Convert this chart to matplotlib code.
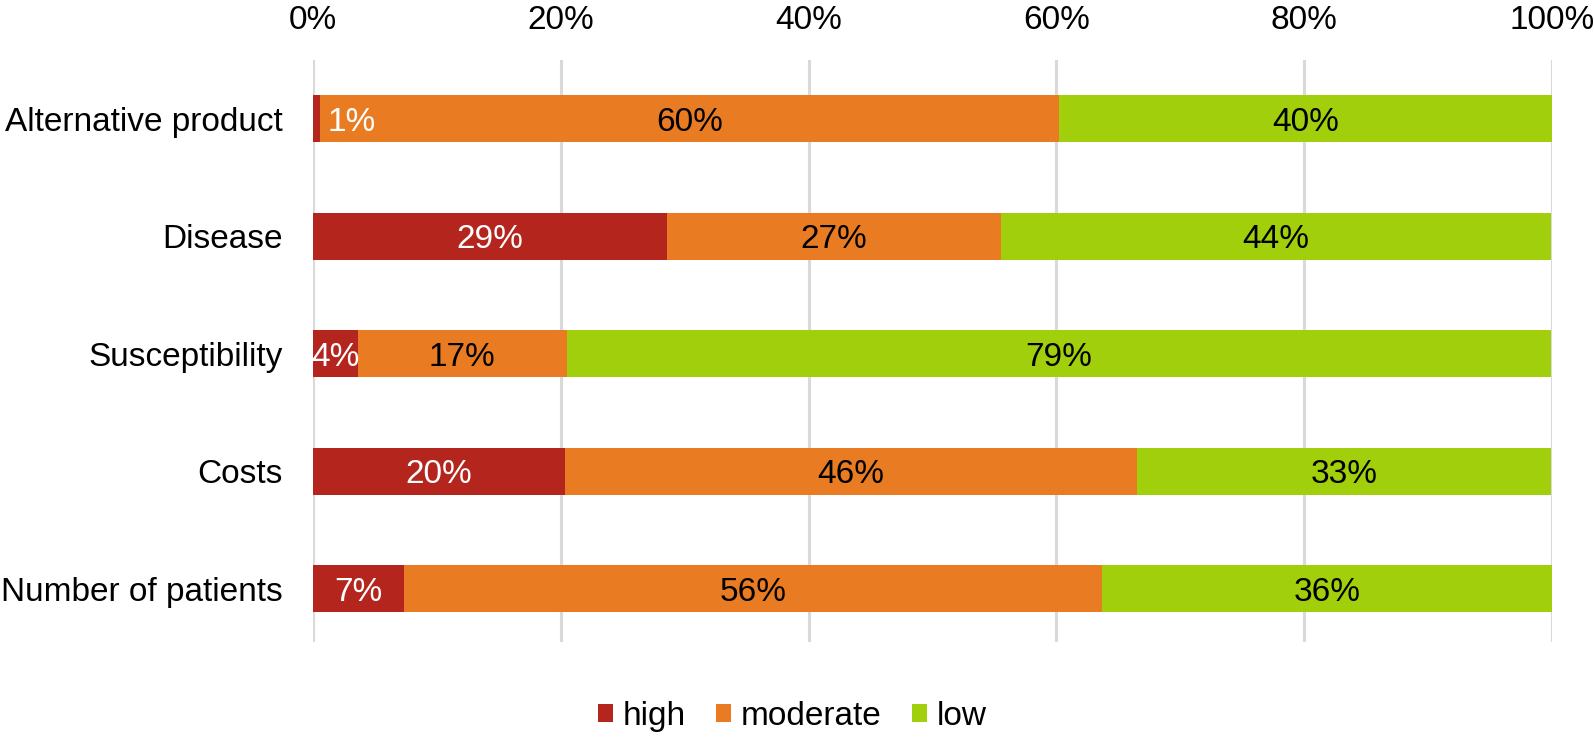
import matplotlib
matplotlib.use('Agg')
import matplotlib.pyplot as plt
from matplotlib.ticker import PercentFormatter

plt.rcParams['font.family'] = ['Liberation Sans', 'DejaVu Sans']

categories = ['Alternative product', 'Disease', 'Susceptibility', 'Costs',
              'Number of patients']
high = [0.6, 28.6, 3.6, 20.3, 7.3]
moderate = [59.6, 26.9, 16.9, 46.2, 56.4]
low = [39.8, 44.4, 79.4, 33.4, 36.3]

series = [('high', high, '#B4251E', 'white'),
          ('moderate', moderate, '#E97B23', 'black'),
          ('low', low, '#A2CF0B', 'black')]

FS = 24

fig = plt.figure(figsize=(15.94, 7.37), dpi=100)
ax = fig.add_axes([0.1964, 0.1289, 0.7773, 0.7897])

ypos = list(range(len(categories)))
left = [0.0] * len(categories)
for name, vals, color, tcolor in series:
    ax.barh(ypos, vals, left=left, height=0.4, color=color, label=name,
            zorder=2)
    for y, l, v in zip(ypos, left, vals):
        if v < 2:
            # tiny segment: Excel pushes the label inside the plot area
            ax.text(l + v + 0.6, y, f'{v:.0f}%', ha='left',
                    va='center_baseline', color=tcolor, fontsize=FS, zorder=3)
        else:
            ax.text(l + v / 2, y, f'{v:.0f}%', ha='center',
                    va='center_baseline', color=tcolor, fontsize=FS,
                    zorder=3, clip_on=True)
    left = [a + b for a, b in zip(left, vals)]

ax.set_xlim(0, 100)
ax.set_ylim(4.455, -0.498)
ax.set_yticks(ypos)
ax.set_yticklabels(categories, fontsize=FS)
ax.set_xticks([0, 20, 40, 60, 80, 100])
ax.xaxis.set_major_formatter(PercentFormatter(decimals=0))
ax.xaxis.tick_top()
ax.tick_params(axis='x', labelsize=FS, length=0, pad=17)
ax.tick_params(axis='y', length=0, pad=22)
for s in ax.spines.values():
    s.set_visible(False)
ax.grid(axis='x', color='#D9D9D9', linewidth=2.2, zorder=0)
ax.set_axisbelow(True)

fig.legend(loc='center', bbox_to_anchor=(0.497, 0.028), ncol=3,
           frameon=False, fontsize=FS, handlelength=0.45, handleheight=0.45,
           handletextpad=0.3, columnspacing=0.9)

plt.savefig('out.png', dpi=100)
